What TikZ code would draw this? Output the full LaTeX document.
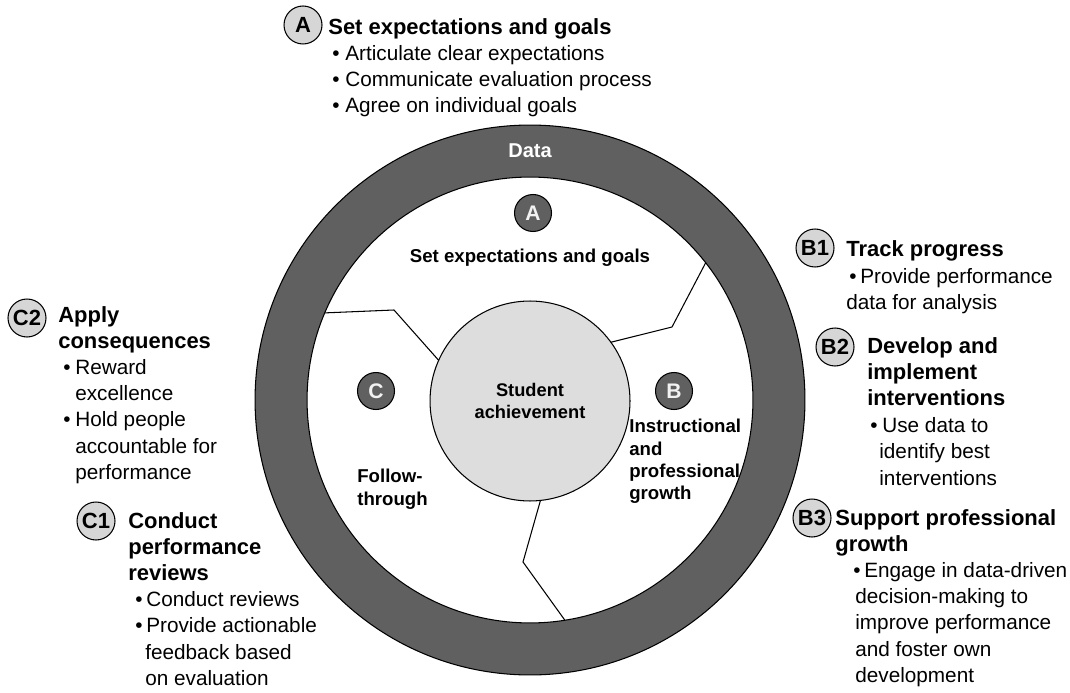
\documentclass[tikz,border=0pt]{standalone}
\usepackage{fontspec}
\setmainfont{Liberation Sans}
\usepackage{xcolor}
\usepackage{tikz}
\definecolor{ringGray}{HTML}{606060}
\definecolor{coreGray}{HTML}{DDDDDD}
\definecolor{tagGray}{HTML}{D6D6D6}
% one unit of the picture
\newlength\upx
\setlength\upx{0.02cm}
% bullet at #1, text at #1+#2 ; plain indent ; bold head line
\newcommand\bul[2]{\hspace*{#1\upx}\makebox[#2\upx][l]{\textbullet}}
\newcommand\ind[1]{\hspace*{#1\upx}}
\newcommand\blkhead[1]{{\fontsize{12.5}{14.9}\selectfont\bfseries #1}}
\tikzset{
  % Dark outer ring
  ring/.style={circle,draw=black,line width=0.6pt,fill=ringGray,
    minimum size=11cm,inner sep=0pt,outer sep=0pt},
  % White field inside the ring
  field/.style={circle,draw=black,line width=0.6pt,fill=white,
    minimum size=8.92cm,inner sep=0pt,outer sep=0pt},
  % Centre circle
  core/.style={circle,draw=black,line width=0.6pt,fill=coreGray,
    minimum size=4cm,inner sep=0pt,outer sep=0pt,align=center,
    font=\fontsize{10.4}{12}\selectfont\bfseries},
  % Dark letter circle on the field
  dark/.style={circle,draw=black,line width=0.6pt,fill=ringGray,
    minimum size=0.74cm,inner sep=0pt,text=white!95!black,
    font=\fontsize{12}{13}\selectfont\bfseries},
  % Light letter tag beside a text block
  tag/.style={circle,draw=black,line width=0.6pt,fill=tagGray,
    minimum size=0.76cm,inner sep=0pt,
    font=\fontsize{12.5}{13}\selectfont\bfseries},
  % Text block with bullets
  block/.style={anchor=north west,align=left,inner sep=0pt,
    font=\fontsize{11.8}{14.9}\selectfont},
  % Labels on the field
  lab/.style={align=left,inner sep=0pt,
    font=\fontsize{10.6}{12.7}\selectfont\bfseries},
  divider/.style={draw=black,line width=0.6pt},
}

\begin{document}
\begin{tikzpicture}[x=0.02cm,y=-0.02cm]
  \useasboundingbox (0,0) rectangle (1070,692);

  % ring, field and centre
  \node[ring] (outer) at (530,400) {};
  \node[field] (inner) at (530,400) {};
  \node[core] (core) at (530,401) {Student\\achievement};
  \node[text=white,font=\fontsize{11.4}{13}\selectfont\bfseries] (data)
    at (530,151) {Data};

  % dividers between the three parts
  \coordinate (k1) at (394,310);
  \coordinate (k2) at (672,327);
  \coordinate (k3) at (523,562);
  \draw[divider] (core.156) -- (k1) -- (inner.157);
  \draw[divider] (core.36) -- (k2) -- (inner.38);
  \draw[divider] (core.-84) -- (k3) -- (inner.-81);

  \node[dark] (dA) at (533,213) {A};
  \node[dark] (dB) at (674,391) {B};
  \node[dark] (dC) at (376,391) {C};
  \node[lab,anchor=base] (labA) at (530,262) {Set expectations and goals};
  \node[lab,anchor=north west] (labB) at (629,419)
    {Instructional\\and\\professional\\growth};
  \node[lab,anchor=north west] (labC) at (357,469) {Follow-\\through};

  % A
  \node[tag] (tA) at (303,25) {A};
  \node[block] (hA) at (328,18)
    {\blkhead{Set expectations and goals}\\
     \bul{4}{13}Articulate clear expectations\\
     \bul{4}{13}Communicate evaluation process\\
     \bul{4}{13}Agree on individual goals};

  % C2 and C1
  \node[tag] (tC2) at (27,318) {C2};
  \node[block] (hC2) at (58,306)
    {\blkhead{Apply}\\
     \blkhead{consequences}\\
     \bul{5}{12}Reward\\
     \ind{17}excellence\\
     \bul{5}{12}Hold people\\
     \ind{17}accountable for\\
     \ind{17}performance};
  \node[tag] (tC1) at (96,521) {C1};
  \node[block] (hC1) at (128,512)
    {\blkhead{Conduct}\\
     \blkhead{performance}\\
     \blkhead{reviews}\\
     \bul{7}{11}Conduct reviews\\
     \bul{7}{11}Provide actionable\\
     \ind{17}feedback based\\
     \ind{17}on evaluation};

  % B1, B2, B3
  \node[tag] (tB1) at (815,248) {B1};
  \node[block] (hB1) at (846,240)
    {\blkhead{Track progress}\\[1\upx]
     \bul{3}{11}Provide performance\\
     data for analysis};
  \node[tag] (tB2) at (835,347) {B2};
  \node[block] (hB2) at (867,337)
    {\blkhead{Develop and}\\
     \blkhead{implement}\\
     \blkhead{interventions}\\[1\upx]
     \bul{3}{12}Use data to\\
     \ind{12}identify best\\
     \ind{12}interventions};
  \node[tag] (tB3) at (812,518) {B3};
  \node[block] (hB3) at (835,509)
    {\blkhead{Support professional}\\
     \blkhead{growth}\\
     \bul{18}{11}Engage in data-driven\\
     \ind{20}decision-making to\\
     \ind{20}improve performance\\
     \ind{20}and foster own\\
     \ind{20}development};
\end{tikzpicture}
\end{document}
